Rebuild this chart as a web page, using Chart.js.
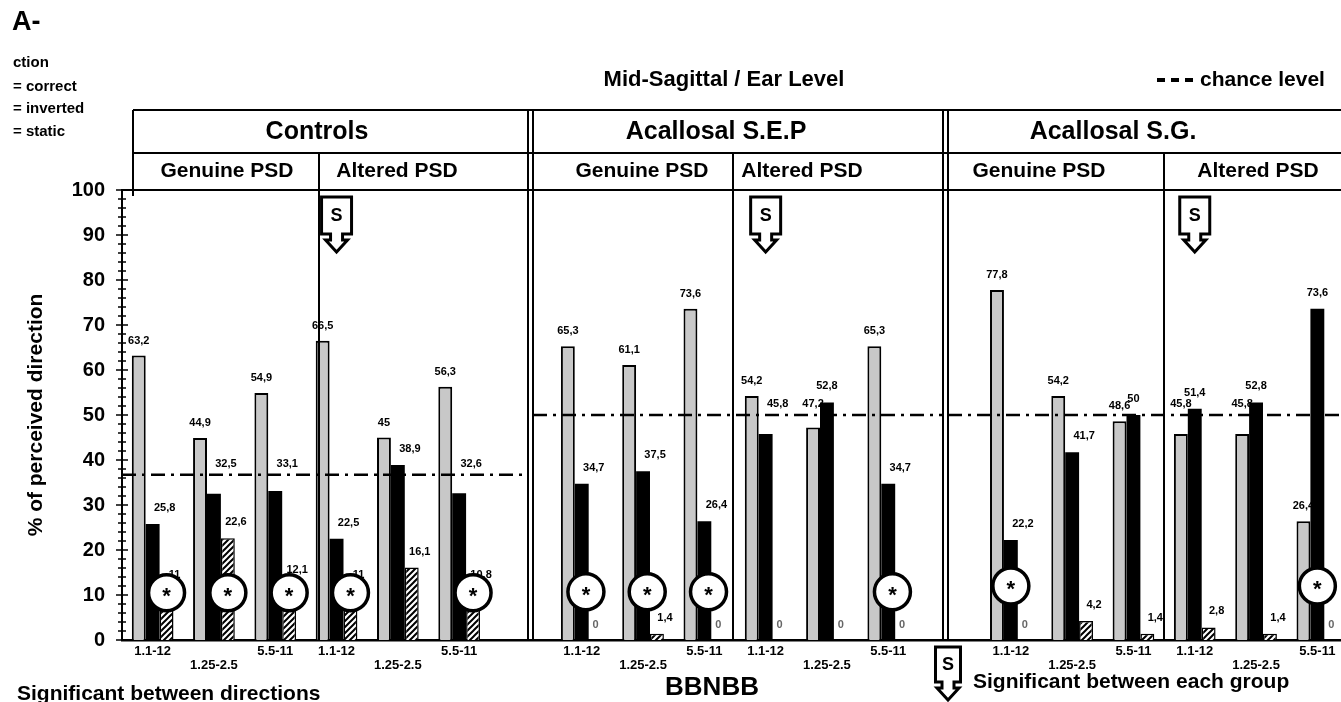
<!DOCTYPE html>
<html>
<head>
<meta charset="utf-8">
<title>Mid-Sagittal / Ear Level</title>
<script src="https://cdn.jsdelivr.net/npm/chart.js@4.4.1/dist/chart.umd.min.js"></script>
<style>
html, body { margin: 0; padding: 0; overflow: hidden; background: #fff; }
canvas { display: block; }
</style>
</head>
<body>
<canvas id="chart" width="1350" height="702"></canvas>
<script>
'use strict';

var FONT = '"Liberation Sans", Arial, sans-serif';

// panels and frequency bands (kHz)
var groups = ['Controls', 'Acallosal S.E.P', 'Acallosal S.G.'];
var conditions = ['Genuine PSD', 'Altered PSD'];
var bands = ['1.1-12', '1.25-2.5', '5.5-11'];
var yTicks = [0, 10, 20, 30, 40, 50, 60, 70, 80, 90, 100];

// % of perceived direction, 20 slots:
// Controls G+A | gap | S.E.P G+A | gap | S.G. G+A
var correct = [63.2, 44.9, 54.9, 66.5, 45, 56.3, null,
  65.3, 61.1, 73.6, 54.2, 47.2, 65.3, null,
  77.8, 54.2, 48.6, 45.8, 45.8, 26.4];
var inverted = [25.8, 32.5, 33.1, 22.5, 38.9, 32.6, null,
  34.7, 37.5, 26.4, 45.8, 52.8, 34.7, null,
  22.2, 41.7, 50, 51.4, 52.8, 73.6];
var staticDir = [11, 22.6, 12.1, 11, 16.1, 10.8, null,
  0, 1.4, 0, 0, 0, 0, null,
  0, 4.2, 1.4, 2.8, 1.4, 0];

var chance = [36.7, 50, 50];                       // chance level per group
var sigDirections = [0, 1, 2, 3, 5, 7, 8, 9, 12, 14, 19]; // circled *
var sigGroups = [3, 10, 17];                       // "S" arrows

// tick labels on two rows, middle band on the lower row
var xLabels = [];
groups.forEach(function (g, gi) {
  conditions.forEach(function () {
    bands.forEach(function (b, bi) {
      xLabels.push(bi === 1 ? ['', b] : [b, '']);
    });
  });
  if (gi < groups.length - 1) xLabels.push(['', '']);
});

function groupOf(j) { return j < 6 ? 0 : (j < 13 ? 1 : 2); }
function fmt(v) { return String(v).replace('.', ','); }

function hatchPattern() {
  var c = document.createElement('canvas');
  c.width = 6; c.height = 6;
  var g = c.getContext('2d');
  g.fillStyle = '#fff';
  g.fillRect(0, 0, 6, 6);
  g.strokeStyle = '#000';
  g.lineWidth = 2;
  g.beginPath();
  g.moveTo(-1, 7); g.lineTo(7, -1);
  g.moveTo(-1, 1); g.lineTo(1, -1);
  g.moveTo(5, 7); g.lineTo(7, 5);
  g.stroke();
  return g.createPattern(c, 'repeat');
}

// page layout (pixels)
var L = {
  boxLeft: 133, rowTop: 110, rowMid: 153, plotTop: 190, plotBottom: 640,
  doubles: [[528, 533], [943, 948]],
  splits: [319, 733, 1164],
  chanceSpans: [[122, 528], [533, 943], [948, 1350]],
  groupX: [317, 716, 1113],
  genuineX: [227, 642, 1039],
  alteredX: [397, 802, 1258],
  circleShift: [1, 0.3, 0],
  circleLevel: [10.5, 10.7, 12]
};

function line(ctx, x1, y1, x2, y2) {
  ctx.beginPath();
  ctx.moveTo(x1, y1);
  ctx.lineTo(x2, y2);
  ctx.stroke();
}

function sMarker(ctx, cx, top, w, h) {
  var l = cx - w / 2, r = cx + w / 2, b = top + h;
  ctx.beginPath();
  ctx.moveTo(l, top); ctx.lineTo(r, top); ctx.lineTo(r, b);
  ctx.lineTo(cx + 6, b); ctx.lineTo(cx + 6, b + 6); ctx.lineTo(cx + 11, b + 6);
  ctx.lineTo(cx, b + 18);
  ctx.lineTo(cx - 11, b + 6); ctx.lineTo(cx - 6, b + 6); ctx.lineTo(cx - 6, b);
  ctx.lineTo(l, b);
  ctx.closePath();
  ctx.fillStyle = '#fff';
  ctx.fill();
  ctx.lineWidth = 3;
  ctx.strokeStyle = '#000';
  ctx.stroke();
  ctx.fillStyle = '#000';
  ctx.font = 'bold 18px ' + FONT;
  ctx.textAlign = 'center';
  ctx.textBaseline = 'middle';
  ctx.fillText('S', cx, top + h / 2 + 1);
}

var decor = {
  id: 'decor',
  afterDatasetsDraw: function (chart) {
    var ctx = chart.ctx, y = chart.scales.y;
    var mC = chart.getDatasetMeta(0).data;
    var mI = chart.getDatasetMeta(1).data;
    var mS = chart.getDatasetMeta(2).data;
    ctx.save();

    // chance level (dash-dot)
    ctx.strokeStyle = '#000';
    ctx.lineWidth = 2.5;
    ctx.setLineDash([14, 6, 3, 6]);
    chance.forEach(function (c, g) {
      var py = y.getPixelForValue(c);
      line(ctx, L.chanceSpans[g][0], py, L.chanceSpans[g][1], py);
    });
    ctx.setLineDash([]);

    // value labels, lifted above the chance line when they would sit on it
    ctx.textAlign = 'center';
    ctx.textBaseline = 'middle';
    for (var j = 0; j < correct.length; j++) {
      if (correct[j] === null) continue;
      var cy = y.getPixelForValue(chance[groupOf(j)]);
      var lift = function (ly) { return Math.abs(ly - cy) < 8 ? cy - 11 : ly; };
      ctx.font = 'bold 11px ' + FONT;
      ctx.fillStyle = '#000';
      ctx.fillText(fmt(correct[j]), mC[j].x, lift(mC[j].y - 15));
      var dx = inverted[j] > correct[j] ? 0 : 12;
      ctx.fillText(fmt(inverted[j]), mI[j].x + dx, lift(mI[j].y - 16));
      if (staticDir[j] > 0) {
        ctx.fillText(fmt(staticDir[j]), mS[j].x + 8, mS[j].y - 16);
      } else {
        ctx.fillStyle = '#666';
        ctx.fillText('0', mS[j].x, mS[j].y - 15);
      }
    }

    // significant between directions
    sigDirections.forEach(function (j) {
      var g = groupOf(j), b = mI[j];
      var cx = b.x + b.width * L.circleShift[g];
      var cy = y.getPixelForValue(L.circleLevel[g]);
      ctx.beginPath();
      ctx.arc(cx, cy, 18, 0, Math.PI * 2);
      ctx.fillStyle = '#fff';
      ctx.fill();
      ctx.lineWidth = 3.5;
      ctx.strokeStyle = '#000';
      ctx.stroke();
      ctx.fillStyle = '#000';
      ctx.font = 'bold 22px ' + FONT;
      ctx.fillText('*', cx, cy + 4);
    });
    ctx.restore();
  },
  afterDraw: function (chart) {
    var ctx = chart.ctx, x = chart.scales.x, y = chart.scales.y;
    var W = chart.width;
    ctx.save();
    ctx.strokeStyle = '#000';

    // y axis tick marks crossing the axis
    ctx.lineWidth = 1.5;
    y.ticks.forEach(function (t) {
      var py = y.getPixelForValue(t.value);
      if (t.value % 10 === 0) line(ctx, 116, py, 128, py);
      else line(ctx, 118, py, 126, py);
    });

    // header table and dividers
    ctx.lineWidth = 2;
    line(ctx, L.boxLeft, L.rowTop, W, L.rowTop);
    line(ctx, L.boxLeft, L.rowMid, W, L.rowMid);
    line(ctx, 122, L.plotTop, W, L.plotTop);
    line(ctx, L.boxLeft, L.rowTop, L.boxLeft, L.plotTop + 6);
    L.doubles.forEach(function (d) {
      line(ctx, d[0], L.rowTop, d[0], L.plotBottom);
      line(ctx, d[1], L.rowTop, d[1], L.plotBottom);
    });
    L.splits.forEach(function (sx) {
      line(ctx, sx, L.rowMid, sx, L.plotBottom);
    });

    ctx.fillStyle = '#000';
    ctx.textAlign = 'center';
    ctx.textBaseline = 'middle';
    ctx.font = 'bold 25px ' + FONT;
    groups.forEach(function (g, i) { ctx.fillText(g, L.groupX[i], 132); });
    ctx.font = 'bold 21px ' + FONT;
    for (var i = 0; i < groups.length; i++) {
      ctx.fillText(conditions[0], L.genuineX[i], 171);
      ctx.fillText(conditions[1], L.alteredX[i], 171);
    }

    // significant between groups
    sigGroups.forEach(function (j) {
      sMarker(ctx, x.getPixelForValue(j), 197, 30, 37);
    });
    sMarker(ctx, 948, 647, 25, 35);

    // titles and notes
    ctx.fillStyle = '#000';
    ctx.textAlign = 'center';
    ctx.textBaseline = 'middle';
    ctx.font = 'bold 22px ' + FONT;
    ctx.fillText('Mid-Sagittal / Ear Level', 724, 80);
    ctx.font = 'bold 26px ' + FONT;
    ctx.fillText('BBNBB', 712, 688);

    ctx.textAlign = 'left';
    ctx.font = 'bold 21px ' + FONT;
    ctx.fillText('chance level', 1200, 80);
    ctx.fillRect(1157, 78, 8, 4);
    ctx.fillRect(1171, 78, 8, 4);
    ctx.fillRect(1185, 78, 8, 4);
    ctx.fillText('Significant between directions', 17, 694);
    ctx.fillText('Significant between each group', 973, 682);

    ctx.font = 'bold 27px ' + FONT;
    ctx.fillText('A-', 12, 23);
    ctx.font = 'bold 15px ' + FONT;
    ctx.fillText('ction', 13, 63);
    ctx.fillText('= correct', 13, 87);
    ctx.fillText('= inverted', 13, 109);
    ctx.fillText('= static', 13, 132);
    ctx.restore();
  }
};

var ctx = document.getElementById('chart').getContext('2d');
new Chart(ctx, {
  type: 'bar',
  data: {
    labels: xLabels,
    datasets: [{
      label: 'correct',
      data: correct,
      backgroundColor: '#c8c8c8',
      borderColor: '#000',
      borderWidth: 2
    }, {
      label: 'inverted',
      data: inverted,
      backgroundColor: '#000',
      borderColor: '#000',
      borderWidth: 0
    }, {
      label: 'static',
      data: staticDir,
      backgroundColor: hatchPattern(),
      borderColor: '#000',
      borderWidth: 1.5
    }]
  },
  options: {
    responsive: false,
    animation: false,
    devicePixelRatio: 1,
    layout: { padding: { left: 10, top: 190, right: 2, bottom: 0 } },
    datasets: { bar: { categoryPercentage: 0.68, barPercentage: 1 } },
    plugins: { legend: { display: false }, tooltip: { enabled: false } },
    scales: {
      x: {
        grid: { display: false, drawTicks: false },
        border: { display: true, color: '#000', width: 2.5 },
        ticks: {
          autoSkip: false, maxRotation: 0, padding: 4, color: '#000',
          font: { family: FONT, size: 13, weight: 'bold', lineHeight: 1.08 }
        },
        afterFit: function (s) { s.height = 62; }
      },
      y: {
        min: 0,
        max: 100,
        grid: { display: false, drawTicks: false },
        border: { display: true, color: '#000', width: 2 },
        ticks: {
          stepSize: 2, autoSkip: false, padding: 17, color: '#000',
          font: { family: FONT, size: 20, weight: 'bold' },
          callback: function (v) { return yTicks.indexOf(v) >= 0 ? v : ''; }
        },
        title: {
          display: true, text: '% of perceived direction', color: '#000',
          padding: { top: 14, bottom: 0 },
          font: { family: FONT, size: 21, weight: 'bold' }
        },
        afterFit: function (s) { s.width = 112; }
      }
    }
  },
  plugins: [decor]
});
</script>
</body>
</html>
